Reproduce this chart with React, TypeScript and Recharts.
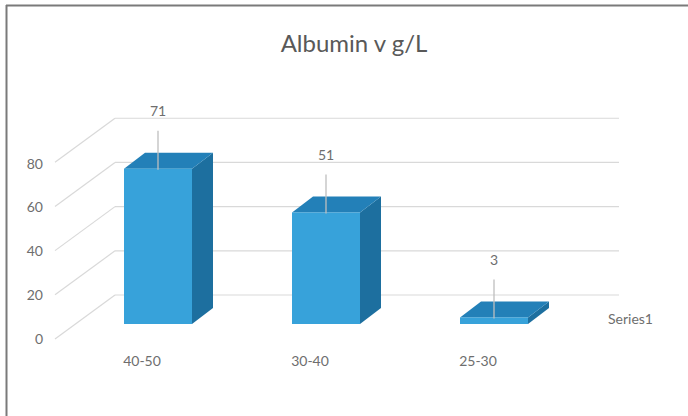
import React from 'react';
import { BarChart, Bar, XAxis, YAxis, CartesianGrid, LabelList } from 'recharts';

// Chart content
const chartTitle = 'Albumin v g/L';
const seriesName = 'Series1';
const categories = ['40-50', '30-40', '25-30'];
const counts = [71, 51, 3];
const yTicks = [0, 20, 40, 60, 80];

const data = categories.map((name, i) => ({ name, value: counts[i] }));

// Layout of the pseudo-3D plot
const W = 688;
const H = 416;
const PLOT_TOP = 149;
const PLOT_H = 175;
const PLOT_BOTTOM = PLOT_TOP + PLOT_H;
const BACK_SHIFT_X = 41; // back wall is pushed right of the front plane
const BACK_BOTTOM = 295; // y of the zero line on the back wall
const BACK_SCALE = 1.01;
const SIDE_DX = -60; // side wall diagonals run down-left to the front edge
const SIDE_DY = 44;
const DEPTH_DX = 21; // bar depth offset
const DEPTH_DY = -16;

const FRONT = '#37A2DA';
const TOP = '#2380B8';
const SIDE = '#1D6F9F';
const GRID = '#D9D9D9';
const TEXT = '#6E6E6E';
const FONT = 'Lato, "Open Sans", sans-serif';

const backY = (y: number) => BACK_BOTTOM - (PLOT_BOTTOM - y) * BACK_SCALE;

// Back wall gridline plus its diagonal on the side wall
const WallLine = (props: any) => {
  const { x1, x2, y1, index } = props;
  const by = backY(y1);
  const bx1 = x1 + BACK_SHIFT_X;
  const bx2 = x2 + BACK_SHIFT_X;
  return (
    <g key={`wall-${index}`}>
      <line x1={bx1} y1={by} x2={bx2} y2={by} stroke={GRID} strokeWidth={1.2} />
      <line x1={bx1} y1={by} x2={bx1 + SIDE_DX} y2={by + SIDE_DY} stroke={GRID} strokeWidth={1.2} />
    </g>
  );
};

// Box-shaped bar: front face, top face and right side face
const Box = (props: any) => {
  const { x, y, width, height } = props;
  const r = x + width;
  const b = y + height;
  return (
    <g>
      <polygon
        points={`${r},${y} ${r + DEPTH_DX},${y + DEPTH_DY} ${r + DEPTH_DX},${b + DEPTH_DY} ${r},${b}`}
        fill={SIDE}
      />
      <polygon
        points={`${x},${y} ${r},${y} ${r + DEPTH_DX},${y + DEPTH_DY} ${x + DEPTH_DX},${y + DEPTH_DY}`}
        fill={TOP}
      />
      <rect x={x} y={y} width={width} height={height} fill={FRONT} />
    </g>
  );
};

// Value label floating above the bar, tied to it with a leader line
const ValueLabel = (props: any) => {
  const { x, y, width, value } = props;
  const cx = x + width / 2;
  const ly = y - 58;
  return (
    <g>
      <line x1={cx} y1={ly + 20} x2={cx} y2={y + 1} stroke="#BFBFBF" strokeWidth={1.3} />
      <text x={cx} y={ly} textAnchor="middle" dominantBaseline="central" fill={TEXT} fontSize={14} fontFamily={FONT}>
        {value}
      </text>
    </g>
  );
};

const YTick = (props: any) => {
  const { x, y, payload } = props;
  return (
    <text x={x - 31} y={y + 14} textAnchor="end" dominantBaseline="central" fill={TEXT} fontSize={14} fontFamily={FONT}>
      {payload.value}
    </text>
  );
};

const XTick = (props: any) => {
  const { x, y, payload } = props;
  return (
    <text x={x - 16} y={y + 36} textAnchor="middle" dominantBaseline="central" fill={TEXT} fontSize={14} fontFamily={FONT}>
      {payload.value}
    </text>
  );
};

export default function App() {
  return (
    <div style={{ position: 'absolute', left: 0, top: 0, width: W, height: H, background: '#fff' }}>
      <BarChart
        width={W}
        height={H}
        data={data}
        margin={{ top: PLOT_TOP, right: 110, bottom: 52, left: 14 }}
      >
        <line x1={6} y1={5.5} x2={W} y2={5.5} stroke="#7A7A7A" strokeWidth={2} />
        <line x1={6.5} y1={5} x2={6.5} y2={H} stroke="#7A7A7A" strokeWidth={2} />
        <text x={354} y={42} textAnchor="middle" dominantBaseline="central" fill="#595959" fontSize={24} fontFamily={FONT}>
          {chartTitle}
        </text>
        <CartesianGrid vertical={false} horizontal={(p: any) => <WallLine {...p} />} />
        <XAxis
          dataKey="name"
          height={40}
          axisLine={false}
          tickLine={false}
          tickSize={0}
          tickMargin={0}
          tick={<XTick />}
          interval={0}
        />
        <YAxis
          domain={[0, 80]}
          ticks={yTicks}
          width={60}
          axisLine={false}
          tickLine={false}
          tickSize={0}
          tickMargin={0}
          tick={<YTick />}
          interval={0}
        />
        <Bar dataKey="value" name={seriesName} barSize={68} shape={<Box />} isAnimationActive={false}>
          <LabelList dataKey="value" content={<ValueLabel />} />
        </Bar>
        <text x={608} y={318} textAnchor="start" dominantBaseline="central" fill={TEXT} fontSize={14} fontFamily={FONT}>
          {seriesName}
        </text>
      </BarChart>
    </div>
  );
}
